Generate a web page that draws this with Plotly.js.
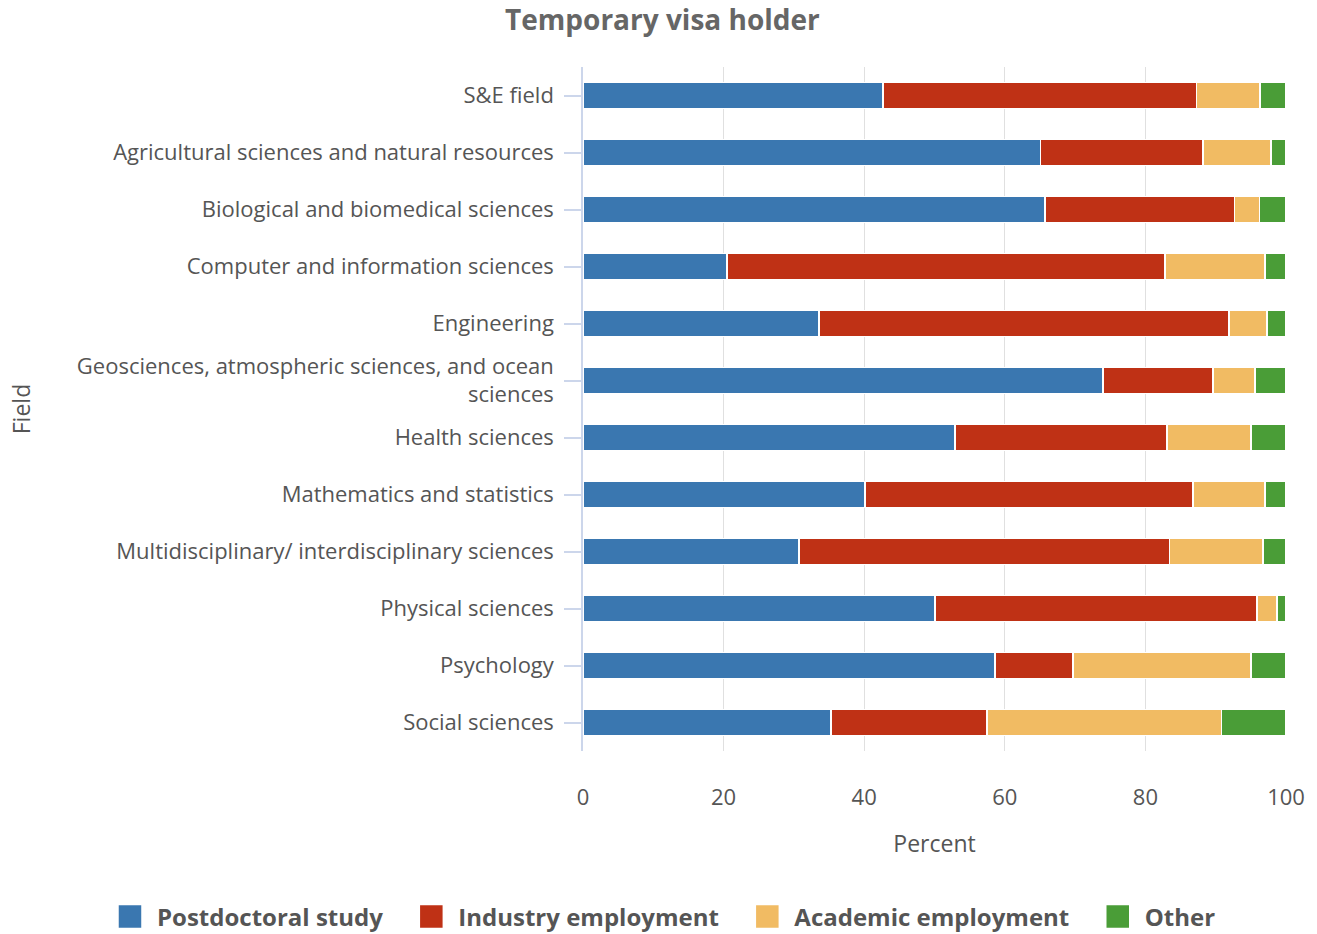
<!DOCTYPE html>
<html>
<head>
<meta charset="utf-8">
<script src="https://cdn.plot.ly/plotly-3.0.1.min.js"></script>
<style>html,body{margin:0;padding:0;background:#fff;}#chart{width:1317px;height:934px;}</style>
</head>
<body>
<div id="chart"></div>
<script>
const fields = [
  "S&E field",
  "Agricultural sciences and natural resources",
  "Biological and biomedical sciences",
  "Computer and information sciences",
  "Engineering",
  "Geosciences, atmospheric sciences, and ocean<br>sciences",
  "Health sciences",
  "Mathematics and statistics",
  "Multidisciplinary/ interdisciplinary sciences",
  "Physical sciences",
  "Psychology",
  "Social sciences"
];
const postdoctoral = [42.7, 65.1, 65.7, 20.5, 33.6, 74.0, 52.9, 40.1, 30.7, 50.1, 58.6, 35.3];
const industry     = [44.6, 23.1, 27.0, 62.3, 58.3, 15.6, 30.2, 46.7, 52.7, 45.8, 11.1, 22.2];
const academic     = [9.0, 9.7, 3.5, 14.2, 5.4, 6.0, 11.9, 10.2, 13.3, 2.8, 25.3, 33.3];
const other        = [3.7, 2.1, 3.8, 3.0, 2.7, 4.4, 5.0, 3.0, 3.3, 1.3, 5.0, 9.2];
const seriesNames = ["Postdoctoral study", "Industry employment", "Academic employment", "Other"];
const seriesColors = ["#3a77b0", "#bf3115", "#f1bb63", "#4a9d37"];
const xTicks = [0, 20, 40, 60, 80, 100];

const seriesData = [postdoctoral, industry, academic, other];
const legendPad = "\u00a0\u00a0\u2006";
const traces = seriesData.map((vals, i) => ({
  type: "bar",
  orientation: "h",
  name: seriesNames[i] + (i < seriesNames.length - 1 ? legendPad : ""),
  y: fields,
  x: vals,
  marker: { color: seriesColors[i], line: { color: "#ffffff", width: 1.5 } },
  hovertemplate: "%{y}<br>" + seriesNames[i] + ": %{x}%<extra></extra>"
}));

const font = "'Open Sans', 'Noto Sans', sans-serif";
const layout = {
  width: 1317,
  height: 934,
  barmode: "stack",
  bargap: 0.54,
  paper_bgcolor: "#ffffff",
  plot_bgcolor: "#ffffff",
  font: { family: font, color: "#555555", size: 18 },
  margin: { l: 583, r: 31, t: 67, b: 183, autoexpand: false },
  title: {
    text: "<b>Temporary visa holder</b>",
    font: { family: font, size: 28, color: "#666666" },
    x: 0.503, xanchor: "center", xref: "container",
    y: 0.978, yanchor: "middle", yref: "container"
  },
  xaxis: {
    range: [0, 100],
    tickvals: xTicks,
    ticktext: xTicks.map(String),
    showgrid: true,
    gridcolor: "#e0e0e0",
    gridwidth: 1,
    zeroline: false,
    showline: false,
    ticks: "",
    ticklabelstandoff: 31,
    tickfont: { family: font, size: 22, color: "#555555" },
    title: { text: "Percent", font: { family: font, size: 23, color: "#555555" }, standoff: 25 },
    fixedrange: true
  },
  yaxis: {
    type: "category",
    autorange: "reversed",
    showline: true,
    linecolor: "#ccd6eb",
    linewidth: 1.5,
    ticks: "outside",
    ticklen: 17,
    tickcolor: "#ccd6eb",
    tickwidth: 1.5,
    ticklabelstandoff: 6,
    showgrid: false,
    zeroline: false,
    tickfont: { family: font, size: 22, color: "#555555" },
    title: { text: "Field", font: { family: font, size: 23, color: "#555555" }, standoff: 40 },
    fixedrange: true
  },
  showlegend: true,
  legend: {
    orientation: "h",
    xref: "paper", yref: "paper",
    x: -0.6828, xanchor: "left",
    y: -0.2427, yanchor: "middle",
    font: { family: font, size: 24, color: "#555555", weight: "bold" },
    traceorder: "normal",
    itemwidth: 44
  },
  hovermode: "closest"
};

Plotly.newPlot("chart", traces, layout, { displayModeBar: false, responsive: false }).then(() => {
  document.querySelectorAll(".legend .legendpoints path").forEach(p => {
    p.setAttribute("d", "M12,12H-12V-12H12Z");
  });
});
</script>
</body>
</html>
